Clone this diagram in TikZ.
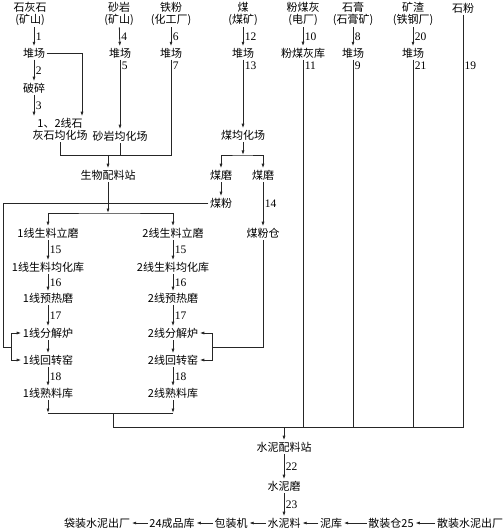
\documentclass[tikz,border=0pt]{standalone}
\usepackage{fontspec}
\setmainfont{Noto Sans CJK SC}
\newfontfamily\numfont{Liberation Serif}
\usetikzlibrary{arrows.meta,calc}

\begin{document}
\begin{tikzpicture}[
    x=1pt, y=-1pt,
    font=\fontsize{11}{12}\selectfont,
    >={Latex[length=4.5pt,width=3pt]},
    item/.style={
        inner sep=1.5pt,
        align=center
    },
    num/.style={
        font=\numfont\fontsize{11.5}{11.5}\selectfont,
        inner sep=1.5pt,
        right
    },
    numtop/.style={
        num,
        anchor=north west
    },
    flow/.style={
        ->,
        draw=black!85,
        line width=0.8pt
    },
    link/.style={
        draw=black!85,
        line width=0.8pt
    }
]
\useasboundingbox (0,0) rectangle (503,529);

% Raw materials
\node[item] (lhs) at (30,14) {石灰石\\(矿山)};
\node[item] (sy) at (119,14) {砂岩\\(矿山)};
\node[item] (tf) at (171,14) {铁粉\\(化工厂)};
\node[item] (mei) at (243,14) {煤\\(煤矿)};
\node[item] (fmh) at (303,14) {粉煤灰\\(电厂)};
\node[item] (sg) at (353,14) {石膏\\(石膏矿)};
\node[item] (kz) at (413,14) {矿渣\\(铁钢厂)};
\node[item] (sf) at (463,8) {石粉};

% Yards
\node[item] (dc1) at (34,53) {堆场};
\node[item] (dc2) at (120,53) {堆场};
\node[item] (dc3) at (171,53) {堆场};
\node[item] (dc4) at (243,53) {堆场};
\node[item] (fmhk) at (303,53) {粉煤灰库};
\node[item] (dc5) at (353,53) {堆场};
\node[item] (dc6) at (413,53) {堆场};

% Crushing and blending
\node[item] (ps) at (34,88) {破碎};
\node[item] (lsjh) at (60,129) {1、2线石\\灰石均化场};
\node[item] (syjh) at (120,136) {砂岩均化场};
\node[item] (swpl) at (108,175) {生物配料站};
\node[item] (mjh) at (243,135) {煤均化场};
\node[item] (mm1) at (221,175) {煤磨};
\node[item] (mm2) at (263,175) {煤磨};
\node[item] (mf) at (221,203) {煤粉};
\node[item] (mfc) at (263,233) {煤粉仓};

% Kiln lines
\foreach \n/\x in {1/48, 2/173} {
    \node[item] (lm\n) at (\x,233) {\n{}线生料立磨};
    \node[item] (jk\n) at (\x,267) {\n{}线生料均化库};
    \node[item] (yr\n) at (\x,298) {\n{}线预热磨};
    \node[item] (fj\n) at (\x,333) {\n{}线分解炉};
    \node[item] (hz\n) at (\x,360) {\n{}线回转窑};
    \node[item] (sk\n) at (\x,393) {\n{}线熟料库};
    \draw[flow] (lm\n) -- (jk\n) node[num, midway] {15};
    \draw[flow] (jk\n) -- (yr\n) node[num, midway] {16};
    \draw[flow] (yr\n) -- (fj\n) node[num, midway] {17};
    \draw[flow] (fj\n) -- (hz\n);
    \draw[flow] (hz\n) -- (sk\n) node[num, midway] {18};
}

% Cement
\node[item] (snpl) at (284,447) {水泥配料站};
\node[item] (snm) at (284,486) {水泥磨};
\node[item] (snl) at (284,523) {水泥料};
\node[item] (dz) at (97,523) {袋装水泥出厂};
\node[item] (cpk) at (172,523) {24成品库};
\node[item] (bzj) at (231,523) {包装机};
\node[item] (nk) at (331,523) {泥库};
\node[item] (szc) at (391,523) {散装仓25};
\node[item] (szs) at (470,523) {散装水泥出厂};

% Junctions
\coordinate (j1) at (108,155);
\coordinate (j2) at (108,213);
\coordinate (j3) at (243,155);
\coordinate (j4) at (113,413);
\coordinate (j5) at (284,427);
\coordinate (k1) at (3,347);
\coordinate (k2) at (11,347);
\coordinate (k3) at (212,347);

% Limestone, sandstone, iron powder
\draw[flow] (dc1.north |- lhs.south) -- (dc1.north) node[num, midway] {1};
\draw[flow] (dc1) -- (ps) node[num, midway] {2};
\draw[flow] (ps) -- (ps |- lsjh.north) node[num, midway] {3};
\draw[flow] (dc1.east) -| ($(lsjh.north)+(22,0)$);
\draw[flow] (sy) -- (dc2) node[num, midway] {4};
\draw[flow] (dc2) -- (syjh) node[numtop, pos=0] {5};
\draw[flow] (tf) -- (dc3) node[num, midway] {6};
\draw[link] (dc3.south) node[numtop] {7} -- (dc3.south |- j1) -| (lsjh.south);
\draw[link] (syjh) -- (syjh |- j1);
\draw[flow] (j1) -- (swpl);

% Raw meal to both lines
\draw[flow] (swpl) -- (j2);
\draw[<->, link] (lm1.north) |- (j2) -| (lm2.north);

% Coal
\draw[flow] (mei) -- (dc4) node[num, midway] {12};
\draw[flow] (dc4) -- (mjh) node[numtop, pos=0] {13};
\draw[flow] (mjh) -- (j3);
\draw[<->, link] (mm1.north) |- (j3) -| (mm2.north);
\draw[flow] (mm1) -- (mf);
\draw[flow] (mm2) -- (mfc) node[num, midway] {14};
\draw[link] (mf.west) -| (k1) -- (k2);
\draw[flow] (k2) |- (fj1.west);
\draw[flow] (k2) |- (hz1.west);
\draw[link] (mfc.south) |- (k3);
\draw[flow] (k3) |- (fj2.east);
\draw[flow] (k3) |- (hz2.east);

% Additives
\draw[flow] (fmh) -- (fmhk) node[num, midway] {10};
\draw[flow] (sg) -- (dc5) node[num, midway] {8};
\draw[flow] (kz) -- (dc6) node[num, midway] {20};
\draw[link] (fmhk.south) node[numtop] {11} -- (fmhk.south |- j5);
\draw[link] (dc5.south) node[numtop] {9} -- (dc5.south |- j5);
\draw[link] (dc6.south) node[numtop] {21} -- (dc6.south |- j5);
\node[numtop] (n19) at (sf.south |- dc6.south) {19};

% Clinker to cement batching
\draw[flow] (sk1) -- (sk1 |- j4);
\draw[flow] (sk2) -- (sk2 |- j4);
\draw[link] (sk1 |- j4) -- (sk2 |- j4);
\draw[link] (j4) |- (sf.south |- j5) -- (sf.south);
\draw[flow] (j5) -- (snpl);
\draw[flow] (snpl) -- (snm) node[num, midway] {22};
\draw[flow] (snm) -- (snl) node[num, midway] {23};

% Dispatch
\draw[flow] (szs) -- (szc);
\draw[flow] (szc) -- (nk);
\draw[flow] (nk) -- (snl);
\draw[flow] (snl) -- (bzj);
\draw[flow] (bzj) -- (cpk);
\draw[flow] (cpk) -- (dz);

\end{tikzpicture}
\end{document}
